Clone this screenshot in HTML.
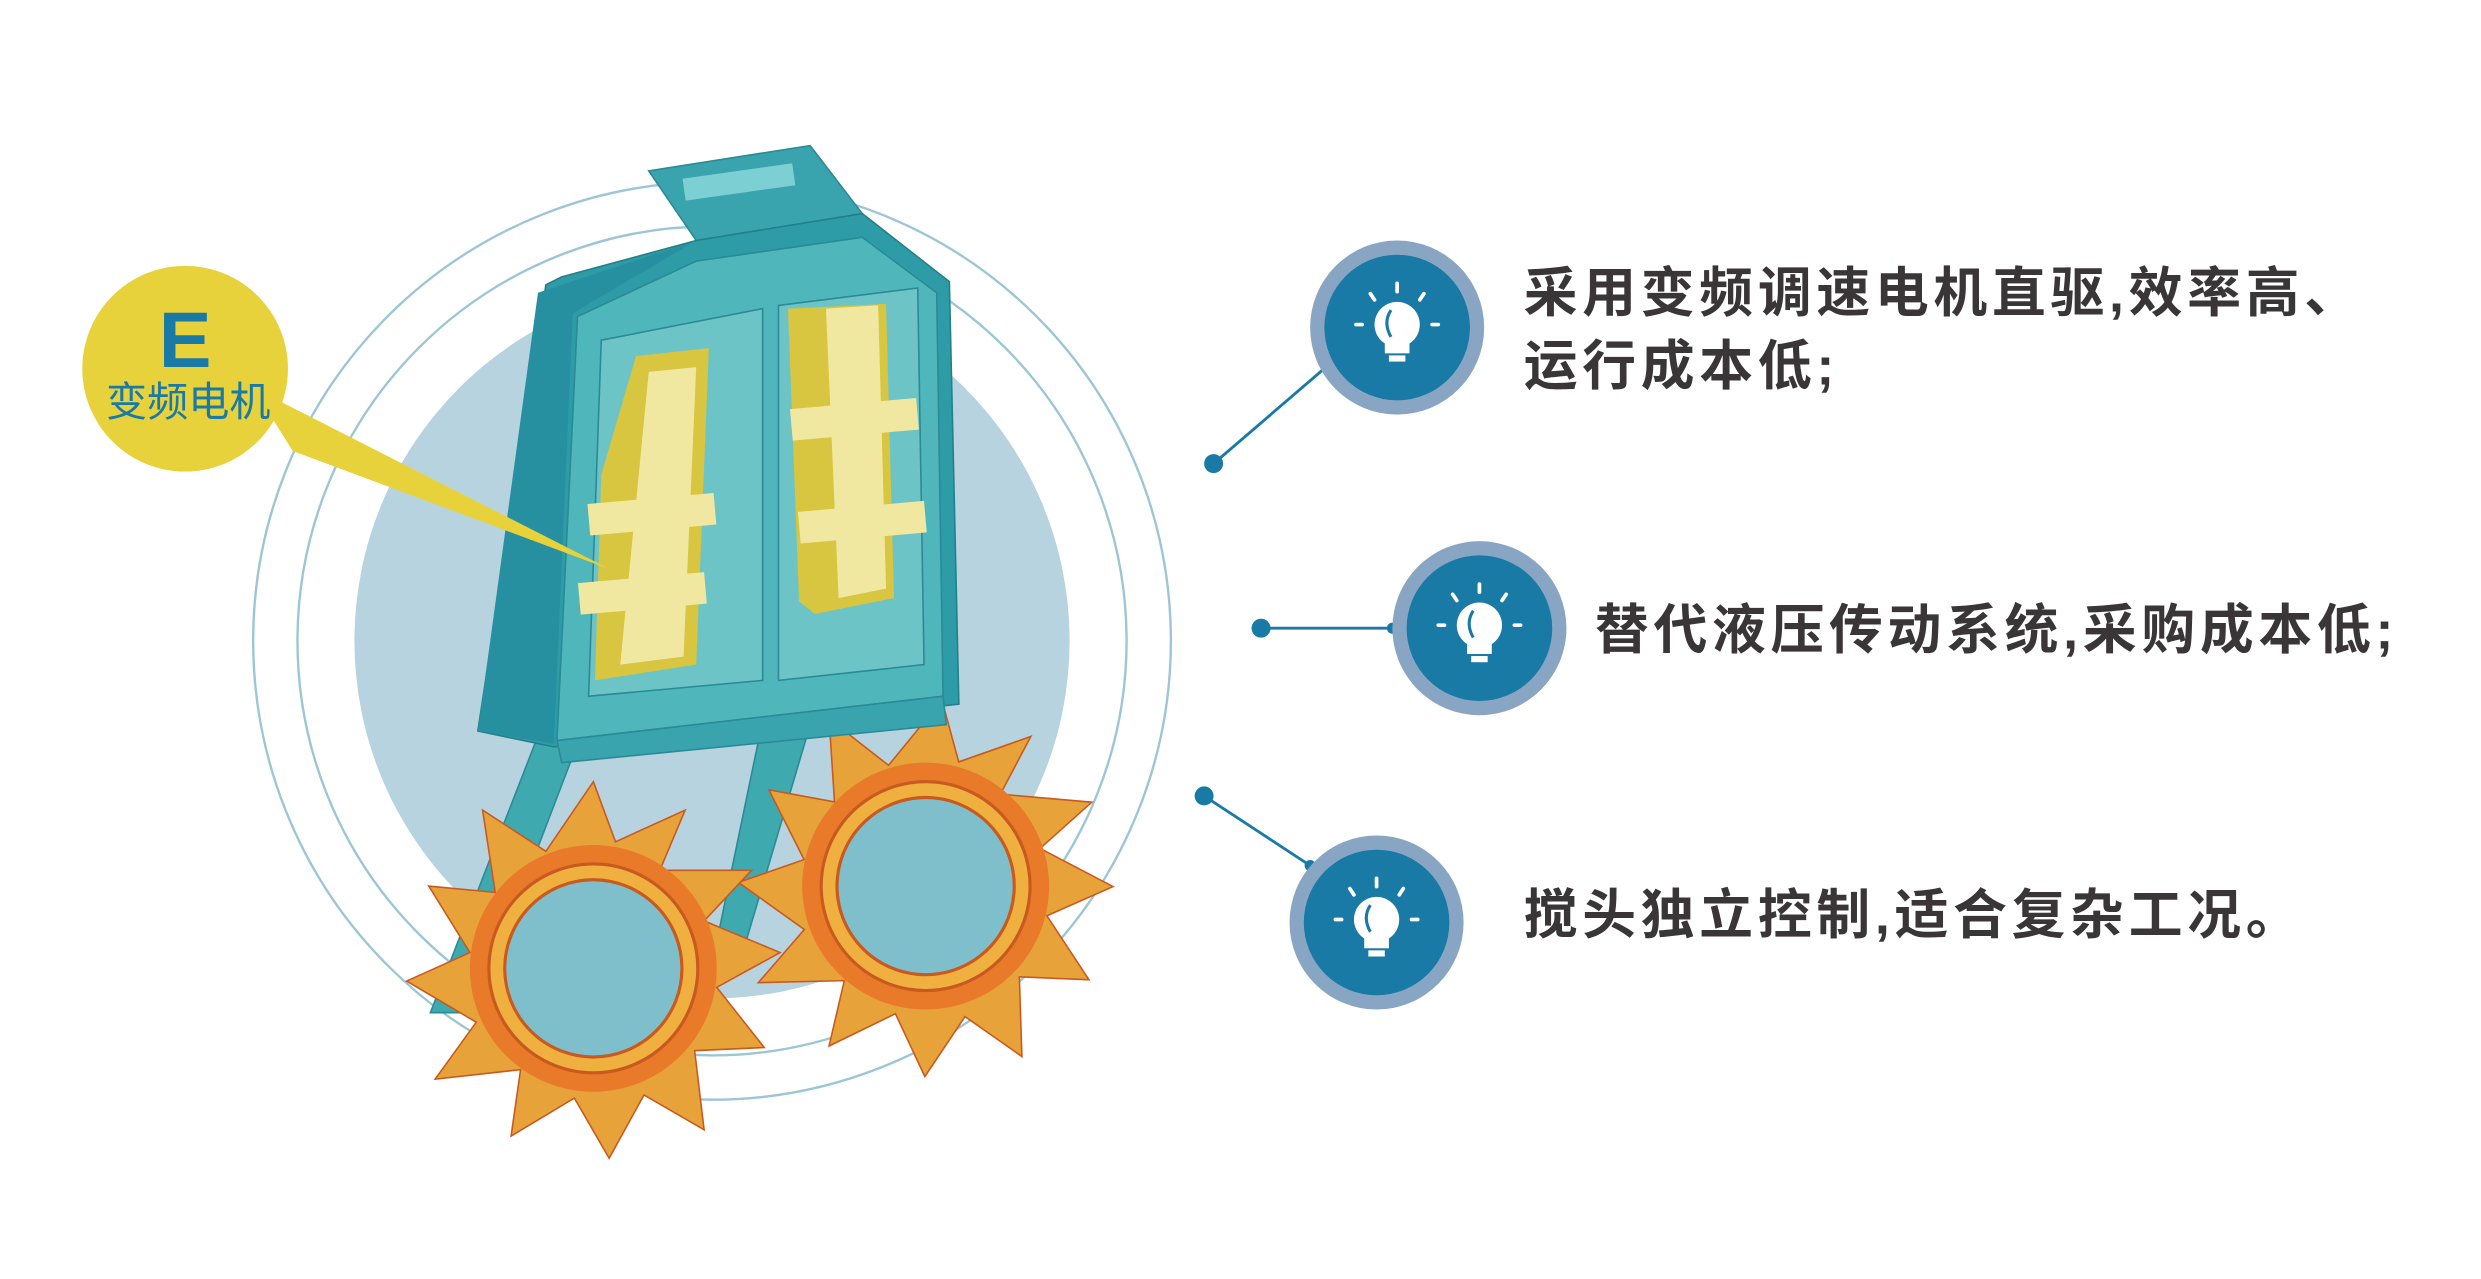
<!DOCTYPE html>
<html><head><meta charset="utf-8"><style>
html,body{margin:0;padding:0;background:#fff;width:2481px;height:1279px;overflow:hidden}
svg{display:block}
text{font-family:"Liberation Sans","Noto Sans CJK SC",sans-serif}
</style></head><body>
<svg width="2481" height="1279" viewBox="0 0 1568 808.3" xmlns="http://www.w3.org/2000/svg">
<defs>
<g id="bulb">
  <circle cx="0" cy="-3" r="11" fill="#fff"/>
  <rect x="-6" y="6" width="12" height="5" fill="#fff"/>
  <rect x="-4" y="12" width="8" height="3" fill="#fff"/>
  <path d="M-3,-10 Q-7,-4 -3,3" stroke="#1a7aa6" stroke-width="1.5" fill="none"/>
  <g stroke="#fff" stroke-width="1.8" stroke-linecap="round">
    <line x1="0" y1="-23" x2="0" y2="-19"/>
    <line x1="-13" y1="-18" x2="-11" y2="-15"/>
    <line x1="13" y1="-18" x2="11" y2="-15"/>
    <line x1="-20" y1="-3" x2="-17" y2="-3"/>
    <line x1="20" y1="-3" x2="17" y2="-3"/>
  </g>
</g>
<g id="gear">
  <g fill="#e8a23a" stroke="#c85a20" stroke-width="1">
    <polygon points="0,-118 14,-80 58,-100 42,-62 100,-62 70,-30 118,-10 78,12 108,50 64,52 70,102 32,80 10,120 -12,82 -52,106 -46,64 -100,70 -74,34 -118,8 -78,-10 -104,-52 -62,-48 -70,-100 -30,-74"/>
  </g>
  <circle r="78" fill="#e87a2a"/>
  <circle r="66" fill="#f0b040" stroke="#c85a20" stroke-width="2"/>
  <circle r="56" fill="#7fbfcb" stroke="#c85a20" stroke-width="2"/>
</g>
</defs>

<circle cx="450" cy="405" r="226" fill="#b6d3df"/>
<circle cx="450" cy="405" r="290" fill="none" stroke="#9cc6d6" stroke-width="1.5"/>
<circle cx="450" cy="405" r="262" fill="none" stroke="#9cc6d6" stroke-width="1.5"/>

<polygon points="340,465 365,470 300,640 272,640" fill="#3fa9b0" stroke="#2a8a95"/>
<polygon points="480,465 510,465 470,600 452,600" fill="#3fa9b0" stroke="#2a8a95"/>

<g transform="translate(585,560) rotate(5)"><use href="#gear"/></g>
<g transform="translate(375,612)"><use href="#gear"/></g>

<polygon points="410,108 512,92 545,135 440,152" fill="#3aa4ae" stroke="#2a8a95"/>
<rect x="432" y="108" width="70" height="14" fill="#7ccfd2" transform="rotate(-8 467 115)"/>
<polygon points="355,175 440,152 545,135 600,178 606,445 350,472 302,462 345,180" fill="#2e9ca6" stroke="#237f89"/>
<polygon points="340,185 440,152 362,198 350,470 302,462" fill="#2690a0"/>
<polygon points="365,200 440,165 545,150 592,185 596,440 352,468" fill="#4fb6bb" stroke="#2a8a95"/>
<polygon points="380,215 482,195 482,430 372,440" fill="#6cc4c6" stroke="#2a8a95"/>
<polygon points="492,193 580,182 584,420 492,430" fill="#6cc4c6" stroke="#2a8a95"/>
<polygon points="352,468 596,440 598,458 355,482" fill="#3aa4ae" stroke="#2a8a95"/>

<polygon points="402,225 448,220 440,420 376,430 380,300" fill="#d8c540"/>
<polygon points="410,235 440,232 432,415 392,420" fill="#f0e8a0"/>
<rect x="372" y="315" width="80" height="20" fill="#f0e8a0" transform="rotate(-5 412 325)"/>
<rect x="366" y="365" width="80" height="20" fill="#f0e8a0" transform="rotate(-5 406 375)"/>
<polygon points="498,195 560,192 565,378 515,388 505,380" fill="#d8c540"/>
<polygon points="522,195 555,193 560,372 530,378" fill="#f0e8a0"/>
<rect x="500" y="255" width="80" height="20" fill="#f0e8a0" transform="rotate(-5 540 265)"/>
<rect x="505" y="320" width="80" height="20" fill="#f0e8a0" transform="rotate(-5 545 330)"/>

<polygon points="160,245 185,285 386,360" fill="#e8d23c"/>
<circle cx="117" cy="233" r="65" fill="#e8d23c"/>
<text x="117" y="232" text-anchor="middle" font-size="50" font-weight="bold" fill="#1a7aa6">E</text>
<text x="119" y="263" text-anchor="middle" font-size="26" fill="#1a7aa6">变频电机</text>

<g stroke="#1a7aa6" stroke-width="1.8" fill="#1a7aa6">
  <line x1="767" y1="293" x2="838" y2="232"/>
  <circle cx="767" cy="293" r="6" stroke="none"/>
  <circle cx="838" cy="232" r="3.5" stroke="none"/>
  <line x1="797" y1="397" x2="880" y2="397"/>
  <circle cx="797" cy="397" r="6" stroke="none"/>
  <circle cx="880" cy="397" r="3.5" stroke="none"/>
  <line x1="761" y1="503" x2="828" y2="547"/>
  <circle cx="761" cy="503" r="6" stroke="none"/>
  <circle cx="828" cy="547" r="3.5" stroke="none"/>
</g>

<circle cx="883" cy="207" r="55" fill="#88a6c3"/>
<circle cx="883" cy="207" r="46" fill="#1a7aa6"/>
<use href="#bulb" transform="translate(883 209) scale(1.3)"/>
<circle cx="935" cy="397" r="55" fill="#88a6c3"/>
<circle cx="935" cy="397" r="46" fill="#1a7aa6"/>
<use href="#bulb" transform="translate(935 399) scale(1.3)"/>
<circle cx="870" cy="583" r="55" fill="#88a6c3"/>
<circle cx="870" cy="583" r="46" fill="#1a7aa6"/>
<use href="#bulb" transform="translate(870 585) scale(1.3)"/>

<g font-size="34" font-weight="bold" fill="#3a3536" letter-spacing="3">
  <text x="963" y="197">采用变频调速电机直驱,效率高、</text>
  <text x="963" y="243">运行成本低;</text>
  <text x="1008" y="410">替代液压传动系统,采购成本低;</text>
  <text x="963" y="590">搅头独立控制,适合复杂工况。</text>
</g>
</svg>
</body></html>
